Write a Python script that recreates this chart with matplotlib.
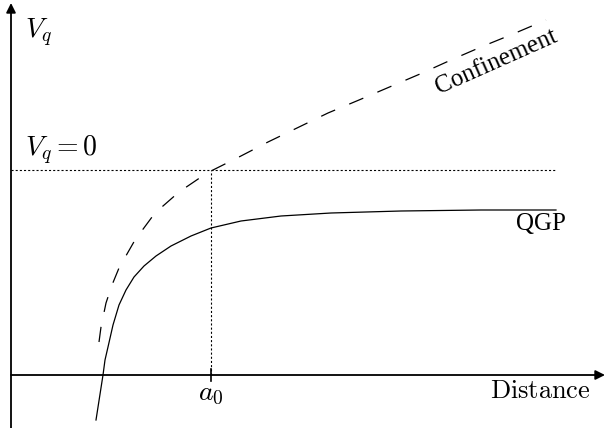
import matplotlib
matplotlib.use("Agg")
import matplotlib.pyplot as plt

plt.rcParams['mathtext.fontset'] = 'cm'
plt.rcParams['font.family'] = ['DejaVu Serif']
plt.rcParams['lines.scale_dashes'] = False

# 坐标：距离 (横) 与势能 (纵)，原点在两轴交点
conf_x = [88, 90, 95, 101, 108, 124, 144, 168, 196, 228, 257, 286, 317, 348, 409, 440, 470, 502, 535]
conf_y = [33, 48, 72, 90, 107, 135, 162, 183, 202, 218, 233, 247, 262, 275, 301, 315, 328, 341, 355]

qgp_x = [85, 92, 94, 97, 102, 108, 115, 123, 133, 145, 160, 180, 200, 230, 270, 320, 390, 470, 545]
qgp_y = [-45, 0, 15, 28, 50, 70, 85, 98, 109, 119, 129, 139, 147, 154, 159, 162, 164, 165, 165]

vq0_level = 205
a0 = 200
x_max = 594
y_max = 372

fig = plt.figure(figsize=(6.06, 4.28), dpi=100)
ax = fig.add_axes([0, 0, 1, 1])
ax.set_xlim(-11, 595)
ax.set_ylim(-53, 375)
ax.axis('off')

# 坐标轴和箭头
ax.annotate('', xy=(x_max, 0), xytext=(0, 0),
            arrowprops=dict(arrowstyle='-|>', lw=1.3, color='black', mutation_scale=14,
                            shrinkA=0, shrinkB=0))
ax.annotate('', xy=(0, y_max), xytext=(0, -53),
            arrowprops=dict(arrowstyle='-|>', lw=1.3, color='black', mutation_scale=14,
                            shrinkA=0, shrinkB=0))

# 虚线辅助线
ax.plot([0, 545], [vq0_level, vq0_level], color='black', lw=0.8, dashes=(1.5, 1.5))
ax.plot([a0, a0], [0, vq0_level], color='black', lw=0.8, dashes=(1.5, 1.5))
ax.plot([a0, a0], [-6, 6], color='black', lw=1.2)

# 两条曲线
ax.plot(conf_x, conf_y, color='black', lw=0.9, dashes=(11, 11))
ax.plot(qgp_x, qgp_y, color='black', lw=0.9)

# 文字
ax.text(14, 342, r'$V_q$', fontsize=20, ha='left', va='center')
ax.text(14, 225, r'$V_q = 0$', fontsize=20, ha='left', va='center')
ax.text(a0, -5, r'$a_0$', fontsize=20, ha='center', va='top')
ax.text(580, -3, r'$\mathrm{Distance}$', fontsize=19, ha='right', va='top')
ax.text(530, 151, 'QGP', fontsize=18, family='Liberation Serif', ha='center', va='center')
ax.text(485, 313, 'Confinement', fontsize=18, family='Liberation Serif', ha='center', va='center',
        rotation=24, rotation_mode='anchor')

fig.savefig('out.png', dpi=100)
